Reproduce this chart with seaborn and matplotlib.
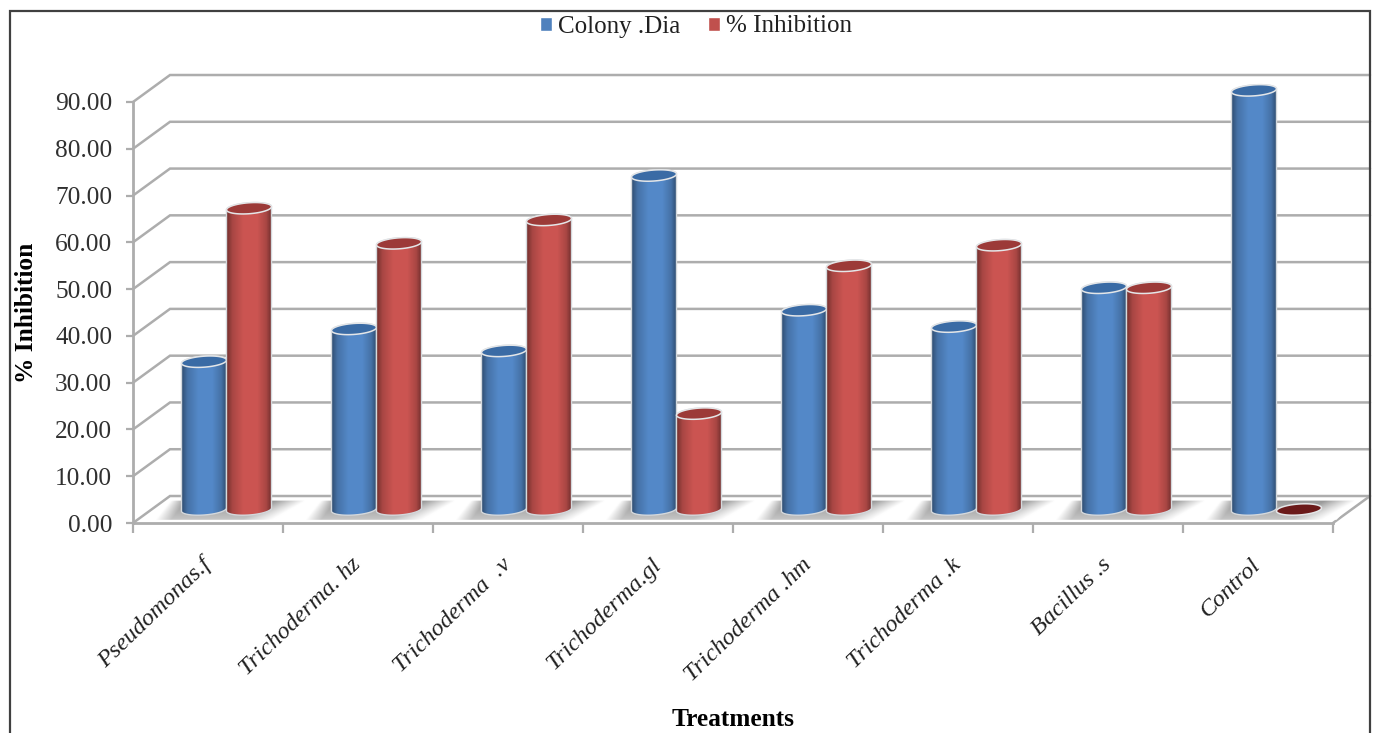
import numpy as np
import pandas as pd
import seaborn as sns
import matplotlib.pyplot as plt
from matplotlib.colors import LinearSegmentedColormap, to_rgb
from matplotlib.patches import Polygon, Rectangle

# Values
treatments = ['Pseudomonas.f', 'Trichoderma. hz', 'Trichoderma  .v', 'Trichoderma.gl',
              'Trichoderma .hm', 'Trichoderma .k', 'Bacillus .s', 'Control']
colony_dia = [31.6, 38.6, 33.9, 71.4, 42.6, 39.1, 47.4, 89.6]
inhibition = [64.4, 56.9, 61.9, 20.5, 52.1, 56.5, 47.4, 0.0]
y_ticks = list(range(0, 100, 10))

# Layout in pixels (dpi 100)
W, H = 1376, 733
PX_CAT = 150.0
PX_VAL = 4.68
DEPTH_X, DEPTH_Y = 37.0, 27.0
BAR_A, BAR_B = 22.5, 5.5
TILT = 0.07

sns.set_theme(style='white')
plt.rcParams['font.family'] = ['Liberation Serif', 'DejaVu Serif']

df = pd.DataFrame({
    'Treatment': treatments * 2,
    'Series': ['Colony .Dia'] * 8 + ['% Inhibition'] * 8,
    'Value': colony_dia + inhibition,
})

fig = plt.figure(figsize=(W / 100, H / 100), dpi=100, facecolor='white')

# -------------------------------
# Front plane: axes, ticks, walls
# -------------------------------
ax_front = fig.add_axes([133 / W, (H - 523) / H, 1200 / W, 421 / H])
ax_front.set_xlim(0, 8)
ax_front.set_ylim(0, 90)
ax_front.patch.set_visible(False)
grey = '#adadad'
for side in ['top', 'right']:
    ax_front.spines[side].set_visible(False)
for side in ['left', 'bottom']:
    ax_front.spines[side].set_color(grey)
    ax_front.spines[side].set_linewidth(2)

ax_front.set_yticks(y_ticks)
ax_front.set_yticklabels(['%.2f' % v for v in y_ticks], fontsize=18.3, color='#303030')
ax_front.set_xticks(range(9))
ax_front.set_xticklabels([])
ax_front.set_xticks(np.arange(8) + 0.5, minor=True)
ax_front.set_xticklabels(treatments, minor=True, fontsize=17.5, style='italic',
                         rotation=44, ha='right', va='center', rotation_mode='anchor',
                         color='#202020')
ax_front.tick_params(axis='y', left=True, length=5, width=1.6, color=grey, pad=10)
ax_front.tick_params(axis='x', which='major', bottom=True, length=7, width=1.6, color=grey)
ax_front.tick_params(axis='x', which='minor', bottom=False, length=0, pad=28)

dx = DEPTH_X / PX_CAT
dy = DEPTH_Y / PX_VAL
for v in y_ticks:
    ax_front.plot([0, dx, 8 + dx], [v, v + dy, v + dy], color=grey, lw=1.8,
                  clip_on=False, zorder=1, solid_joinstyle='miter')
ax_front.plot([8, 8 + dx], [0, dy], color=grey, lw=1.8, clip_on=False, zorder=1)

ax_front.set_ylabel('% Inhibition', fontsize=18.3, fontweight='bold', color='black')
ax_front.yaxis.set_label_coords(-95 / 1200, 0.5)
ax_front.set_xlabel('Treatments', fontsize=18.3, fontweight='bold', color='black')
ax_front.xaxis.set_label_coords(0.5, -0.44)

# -------------------------------
# Bar plane, half way into the depth
# -------------------------------
ax = fig.add_axes([(133 + DEPTH_X / 2) / W, (H - 523 + DEPTH_Y / 2) / H, 1200 / W, 421 / H])
ax.patch.set_visible(False)
sns.barplot(data=df, x='Treatment', y='Value', hue='Series', order=treatments,
            palette=['#4f81bd', '#c0504d'], saturation=1, width=0.6, gap=0, ax=ax)
ax.set_xlim(-0.5, 7.5)
ax.set_ylim(0, 90)
ax.axis('off')

# Floor shadow under each group, soft at both ends and towards the front
shade = LinearSegmentedColormap.from_list('shade', ['white', '#969696'])
u, w = np.meshgrid(np.linspace(0, 1, 150), np.linspace(0, 1, 40))
left = np.clip((u - 0.02 - 0.1 * (1 - w)) / 0.1, 0, 1)
right = np.clip((1 - u - 0.22 * w) / 0.2, 0, 1)
fade = np.minimum(left, right) * (1 - 0.45 * w)
for i in range(len(treatments)):
    floor = Polygon([(i - 0.49, -2.2), (i + 0.40, -2.2), (i + 0.52, 1.9), (i - 0.37, 1.9)],
                    closed=True, transform=ax.transData, fc='none', ec='none')
    ax.add_patch(floor)
    im = ax.imshow(fade, cmap=shade, vmin=0, vmax=1, aspect='auto',
                   extent=(i - 0.5, i + 0.53, -2.2, 1.9), zorder=1.5)
    im.set_clip_path(floor)
    im.set_clip_box(fig.bbox)


def cylinder_colors(base):
    c = np.array(to_rgb(base))
    dark = c * 0.58
    mid = c * 0.88
    light = np.minimum(c * 1.06, 1)
    return LinearSegmentedColormap.from_list(
        'cyl', [(0, dark), (0.14, mid), (0.38, light), (0.68, light), (0.88, mid), (1, dark)])


def ring(xc, v, start, stop):
    # points of a slightly tilted ellipse, in data units of the bar axes
    t = np.linspace(start, stop, 60)
    px = BAR_A * np.cos(t)
    py = BAR_B * np.sin(t) + TILT * px
    return np.column_stack([xc + px / PX_CAT, v + py / PX_VAL])


# Turn seaborn's flat bars into cylinders
for container, base, top in zip(ax.containers, ['#4f81bd', '#c0504d'], ['#3a6ba5', '#9c3a38']):
    for bar in container:
        xc = bar.get_x() + bar.get_width() / 2
        h = bar.get_height()
        z = 3 + xc * 0.2
        if h > 0:
            body_pts = np.vstack([ring(xc, 0, np.pi, 2 * np.pi), ring(xc, h, 0, np.pi)])
            body = Polygon(body_pts, closed=True, fc='none', ec='#d4d8dc', lw=1,
                           zorder=z + 0.02, clip_on=False)
            ax.add_patch(body)
            grad = ax.imshow(np.linspace(0, 1, 100)[None, :], cmap=cylinder_colors(base),
                             aspect='auto', zorder=z + 0.01,
                             extent=(xc - BAR_A / PX_CAT - 0.001, xc + BAR_A / PX_CAT + 0.001,
                                     -2 * BAR_B / PX_VAL, h + 2 * BAR_B / PX_VAL))
            grad.set_clip_path(body)
            grad.set_clip_box(fig.bbox)
            bar.set_clip_path(body)
        else:
            top = '#6b1a1a'
        cap = Polygon(ring(xc, h, 0, 2 * np.pi), closed=True, fc=top, ec='#e4e6e8', lw=1.1,
                      zorder=z + 0.03, clip_on=False)
        ax.add_patch(cap)

ax.set_xlim(-0.5, 7.5)
ax.set_ylim(0, 90)

# Legend along the top
sns.move_legend(ax, 'center', bbox_to_anchor=(696 / W, 1 - 26.5 / H), bbox_transform=fig.transFigure,
                ncol=2, frameon=False, title=None, fontsize=18, handlelength=0.5, handleheight=0.5,
                handletextpad=0.25, columnspacing=1.09, labelcolor='#202020')

# Frame of the picture, open at the bottom edge
frame = Rectangle((9.5 / W, -0.05), (1370 - 9.5) / W, 1 + 0.05 - 10.5 / H, transform=fig.transFigure,
                  fc='none', ec='#404040', lw=1.6, zorder=10)
fig.add_artist(frame)

fig.savefig('out.png', dpi=100)
